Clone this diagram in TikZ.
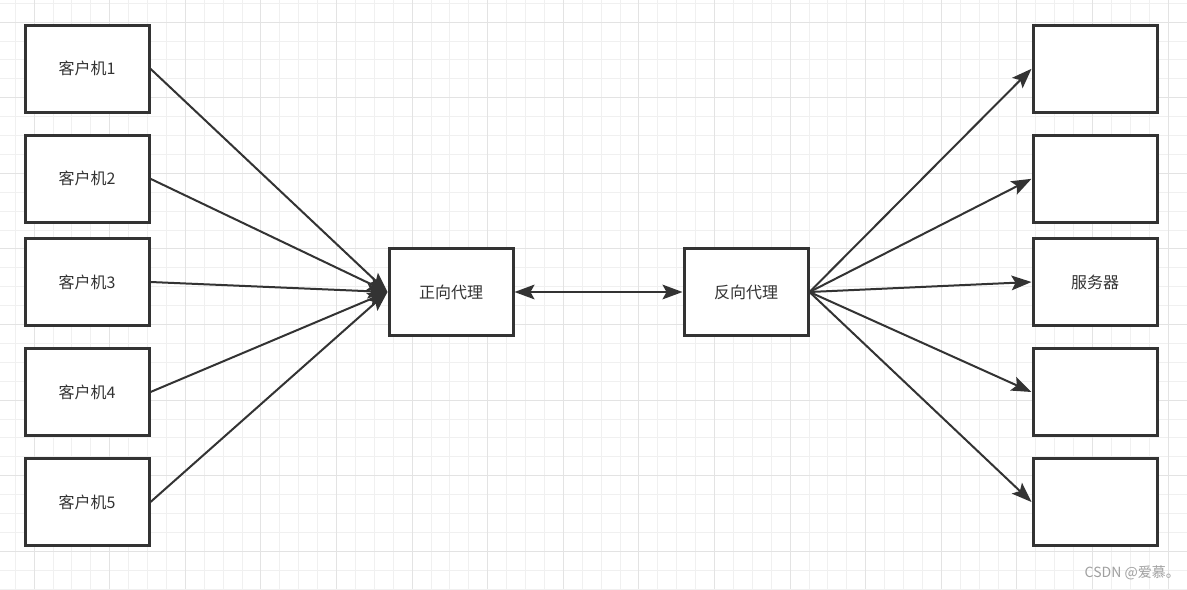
\documentclass[tikz,border=0pt]{standalone}
\usepackage{fontspec}
\usepackage{tikz}
\usetikzlibrary{arrows.meta,positioning}
\newfontfamily\cjk{Noto Sans CJK SC}
\definecolor{ink}{HTML}{333333}
\definecolor{gridminor}{HTML}{F0F0F0}
\definecolor{gridmajor}{HTML}{E3E3E3}
\definecolor{wmgray}{HTML}{A0A0A0}

\begin{document}
\begin{tikzpicture}[
  x=0.75pt, y=-0.75pt,
  font=\cjk\fontsize{12}{14}\selectfont, text=ink,
  >={Stealth[length=15pt, width=11pt, inset=3pt]},
  s/.style={draw=ink, line width=2.25pt, fill=white, minimum width=93pt, minimum height=65pt, inner sep=0pt},
  pf/.style={draw=ink, line width=1.5pt, ->},
  g/.style={line width=0.75pt}
]
\path[use as bounding box, fill=white] (0,0) rectangle (1187,589);
\foreach \i in {0,...,62} \draw[g, gridminor] ({15.2+18.9*\i},0) -- ({15.2+18.9*\i},589);
\foreach \i in {0,...,31} \draw[g, gridminor] (0,{3.2+18.9*\i}) -- (1187,{3.2+18.9*\i});
\foreach \i in {0,...,15} \draw[g, gridmajor] ({34.1+75.6*\i},0) -- ({34.1+75.6*\i},589);
\foreach \i in {0,...,7} \draw[g, gridmajor] (0,{22.1+75.6*\i}) -- (1187,{22.1+75.6*\i});

\node[s] (c1) at (87,68.8) {客户机1};
\node[s] (c2) at (87,178.8) {客户机2};
\node[s] (c3) at (87,282) {客户机3};
\node[s] (c4) at (87,392) {客户机4};
\node[s] (c5) at (87,502) {客户机5};

\node[s] (fwd) at (451,292) {正向代理};
\node[s] (rev) at (746,292) {反向代理};

\node[s] (s1) at (1095,68.8) {};
\node[s] (s2) at (1095,178.8) {};
\node[s] (s3) at (1095,282) {服务器};
\node[s] (s4) at (1095,392) {};
\node[s] (s5) at (1095,502) {};

\foreach \c in {c1,c2,c3,c4,c5} \draw[pf] (\c.east) -- (fwd.west);
\draw[pf, <->] (fwd.east) -- (rev.west);
\foreach \t in {s1,s2,s3,s4,s5} \draw[pf] (rev.east) -- (\t.west);

\node[anchor=east, inner sep=0pt, text=wmgray, font=\cjk\fontsize{10.5}{12}\selectfont] (wm) at (1180,573) {CSDN @爱慕。};
\end{tikzpicture}
\end{document}
